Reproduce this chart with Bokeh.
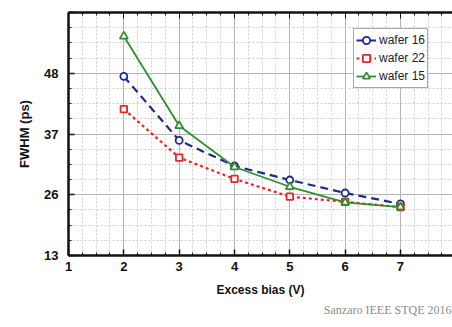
from bokeh.plotting import figure
from bokeh.models import (LinearAxis, FixedTicker, Range1d, Title, Legend)
from bokeh.embed import file_html
from bokeh.resources import INLINE

# ---- data ----
bias = [2, 3, 4, 5, 6, 7]
wafer16 = [47.4, 35.1, 30.2, 27.5, 25.0, 22.9]
wafer22 = [41.1, 31.8, 27.7, 24.3, 23.3, 22.3]
wafer15 = [55.1, 37.9, 30.0, 26.2, 23.2, 22.3]

x_ticks = [1, 2, 3, 4, 5, 6, 7, 8]
y_tick_labels = ["13", "26", "37", "48", ""]
y_step = (48 - 13) / 3
y_ticks = [13 + i * y_step for i in range(5)]
y_minor = [13 + j * y_step / 4 for j in range(17)]
x_minor = [1 + j * 0.25 for j in range(29)]

p = figure(width=452, height=327, output_backend="svg", toolbar_location=None,
           x_range=Range1d(1, 7.94), y_range=Range1d(13, y_ticks[-1]),
           min_border_left=68, min_border_right=0, min_border_top=12,
           min_border_bottom=72, background_fill_color="white",
           border_fill_color="white")
p.outline_line_color = None

xt = FixedTicker(ticks=x_ticks, minor_ticks=x_minor)
yt = FixedTicker(ticks=y_ticks, minor_ticks=y_minor)
p.xaxis.ticker = xt
p.yaxis.ticker = yt
p.yaxis.major_label_overrides = {t: l for t, l in zip(y_ticks, y_tick_labels)}

for ax in (p.xaxis[0], p.yaxis[0]):
    ax.axis_line_width = 2.5
    ax.axis_line_color = "#111111"
    ax.major_tick_in = 6
    ax.major_tick_out = 0
    ax.minor_tick_in = 3
    ax.minor_tick_out = 0
    ax.major_tick_line_color = "#111111"
    ax.minor_tick_line_color = "#111111"
    ax.major_tick_line_width = 1.5
    ax.major_label_text_font = "Liberation Sans"
    ax.major_label_text_font_style = "bold"
    ax.major_label_text_font_size = "13px"
    ax.major_label_text_color = "#111111"
    ax.axis_label_text_font = "Liberation Sans"
    ax.axis_label_text_font_style = "bold"
    ax.axis_label_text_color = "#111111"

p.xaxis.axis_label = "Excess bias (V)"
p.xaxis.axis_label_text_font_size = "12px"
p.xaxis.major_label_standoff = 6
p.xaxis.axis_label_standoff = 9
p.yaxis.axis_label = "FWHM (ps)"
p.yaxis.axis_label_text_font_size = "13px"
p.yaxis.major_label_standoff = 10
p.yaxis.axis_label_standoff = 9

top = LinearAxis(ticker=xt, major_label_text_font_size="0px",
                 major_label_standoff=0, axis_line_width=2.5,
                 axis_line_color="#111111", major_tick_in=6, major_tick_out=0,
                 minor_tick_in=3, minor_tick_out=0,
                 major_tick_line_color="#111111", minor_tick_line_color="#111111")
p.add_layout(top, "above")

p.xgrid.grid_line_color = "#b4b4b4"
p.ygrid.grid_line_color = "#b4b4b4"
p.xgrid.minor_grid_line_color = "#cccccc"
p.ygrid.minor_grid_line_color = "#cccccc"
p.xgrid.minor_grid_line_dash = "2 2"
p.ygrid.minor_grid_line_dash = "2 2"

blue = "#1c2a8c"
red = "#e8262a"
green = "#2f8f2f"

r16l = p.line(bias, wafer16, line_color=blue, line_width=2.2, line_dash="8 5")
r16m = p.scatter(bias, wafer16, marker="circle", size=7, fill_color="white",
                 line_color=blue, line_width=1.8)
r22l = p.line(bias, wafer22, line_color=red, line_width=2.2, line_dash="3 3")
r22m = p.scatter(bias, wafer22, marker="square", size=6.5, fill_color="white",
                 line_color=red, line_width=1.8)
r15l = p.line(bias, wafer15, line_color=green, line_width=1.8)
r15m = p.scatter(bias, wafer15, marker="triangle", size=8, fill_color="white",
                 line_color=green, line_width=1.8)

legend = Legend(items=[("wafer 16", [r16l, r16m]), ("wafer 22", [r22l, r22m]),
                       ("wafer 15", [r15l, r15m])],
                location=(285, 167), border_line_color="#555555",
                border_line_width=1, background_fill_alpha=1,
                label_text_font="Liberation Sans", label_text_font_size="12px",
                label_text_color="#222222", glyph_width=20, glyph_height=18,
                label_height=18, label_standoff=3, padding=2, spacing=0,
                margin=0)
p.add_layout(legend, "center")

src = Title(text="Sanzaro IEEE STQE 2016", align="right", offset=1,
            standoff=3, text_font="Liberation Serif", text_font_style="normal",
            text_font_size="12px", text_color="#8c8c8c")
p.add_layout(src, "below")

open("out.html", "w").write(file_html(p, INLINE))
